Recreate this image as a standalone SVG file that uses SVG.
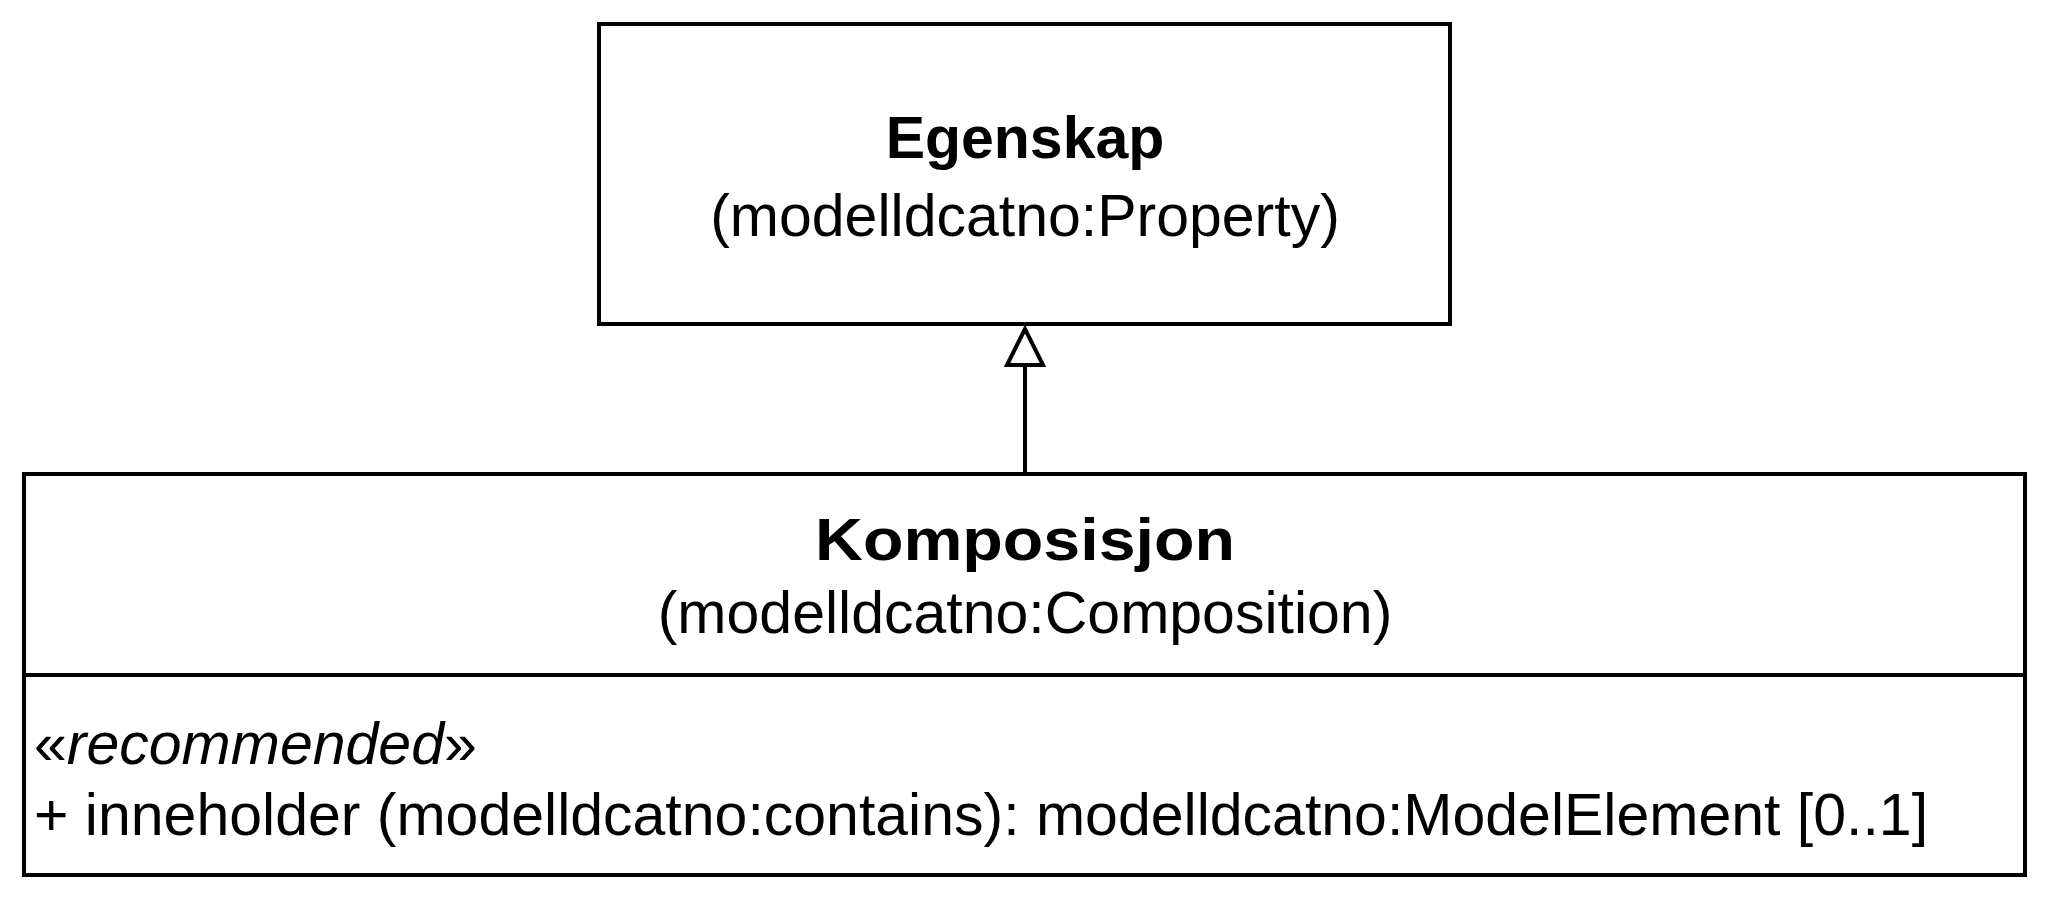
<svg xmlns="http://www.w3.org/2000/svg" width="2060" height="910" viewBox="0 0 2060 910">
<style>
.box{fill:#fff;stroke:#000;stroke-width:4}
text{font-family:"Liberation Sans",Arial,sans-serif;fill:#000}
.t{font-size:59px;font-weight:bold;text-anchor:middle}
.s{font-size:59px;text-anchor:middle}
.a{font-size:59px}
</style>
<rect width="2060" height="910" fill="#fff"/>
<g id="connectors">
<line x1="1025" y1="474" x2="1025" y2="365" stroke="#000" stroke-width="4"/>
<polygon points="1025,329 1007,365 1043,365" fill="#fff" stroke="#000" stroke-width="4"/>
</g>
<g id="egenskap">
<rect class="box" x="599" y="24" width="851" height="300"/>
<text class="t" x="1025" y="158">Egenskap</text>
<text class="s" x="1025" y="236">(modelldcatno:Property)</text>
</g>
<g id="komposisjon">
<rect class="box" x="24" y="474" width="2001" height="401"/>
<line x1="24" y1="675" x2="2025" y2="675" stroke="#000" stroke-width="4"/>
<text class="t" x="1025" y="560" textLength="420" lengthAdjust="spacingAndGlyphs">Komposisjon</text>
<text class="s" x="1025" y="633">(modelldcatno:Composition)</text>
<text class="a" x="34" y="764">«<tspan font-style="italic">recommended</tspan>»</text>
<text class="a" x="34" y="835">+ inneholder (modelldcatno:contains): modelldcatno:ModelElement [0..1]</text>
</g>
</svg>
